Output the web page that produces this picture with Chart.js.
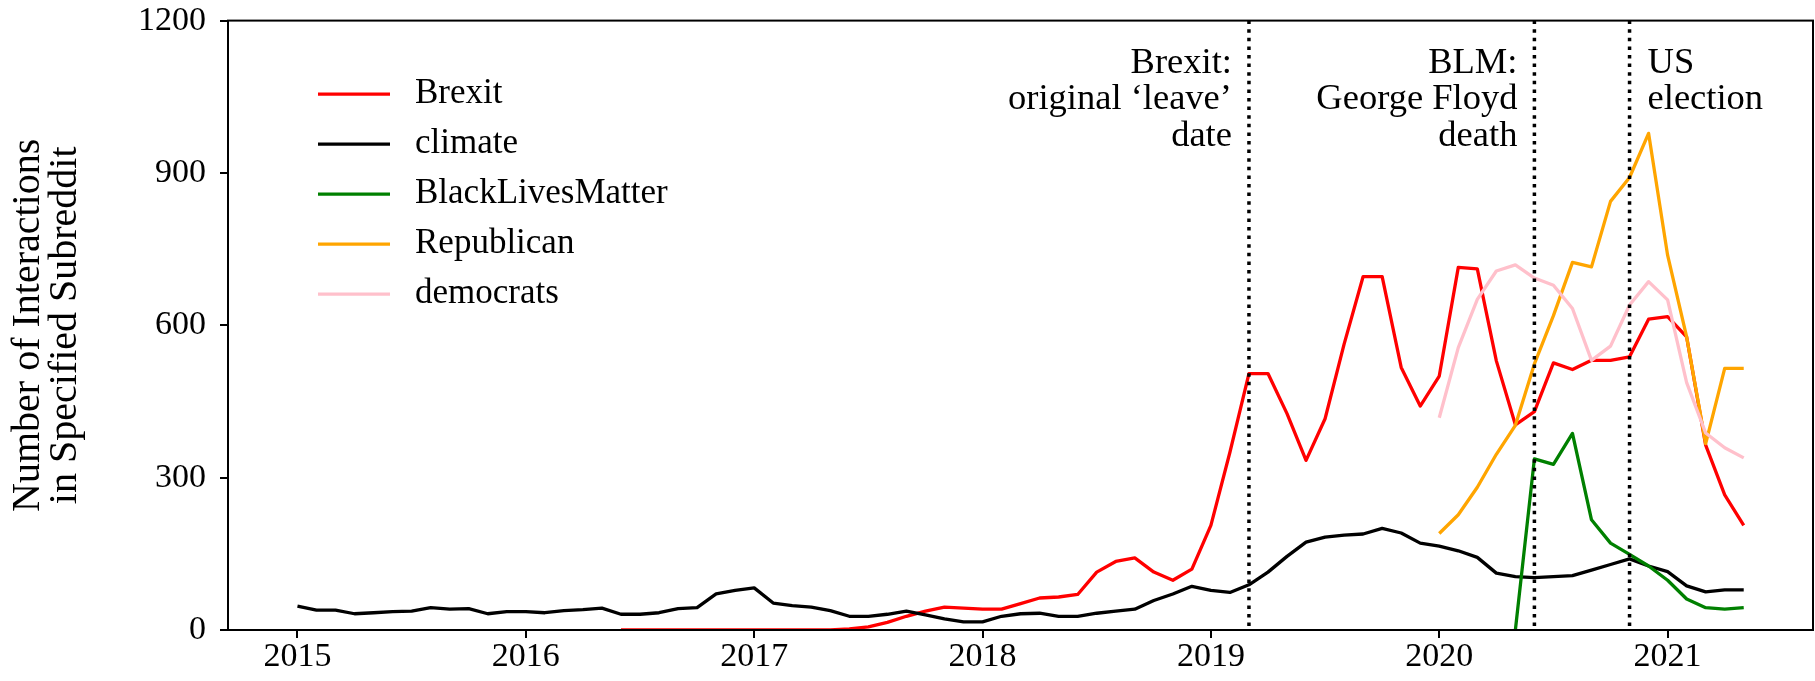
<!DOCTYPE html>
<html>
<head>
<meta charset="utf-8">
<script src="https://cdn.jsdelivr.net/npm/chart.js@4.4.0/dist/chart.umd.min.js"></script>
<style>
  html, body { margin: 0; padding: 0; background: #fff; }
</style>
</head>
<body>
<canvas id="interactions" width="1815" height="681"></canvas>
<script>
var FONT = '"Liberation Serif", "DejaVu Serif", serif';

// monthly counts, Jan 2015 .. May 2021
var firstYear = 2015;
var monthCount = 77;
var yearLabels = ['2015', '2016', '2017', '2018', '2019', '2020', '2021'];
var yTicks = [0, 300, 600, 900, 1200];

var climate = [47, 39, 39, 32, 34, 36, 37, 44, 41, 42, 32, 36,
  36, 34, 38, 40, 43, 31, 31, 34, 42, 44, 71, 78,
  83, 53, 48, 45, 38, 27, 27, 31, 37, 30, 22, 16,
  16, 27, 32, 33, 27, 27, 33, 37, 41, 58, 71, 86,
  78, 74, 89, 114, 145, 173, 183, 187, 189, 200, 191, 171,
  165, 156, 143, 112, 105, 103, 105, 107, 118, 129, 140, 126,
  115, 87, 75, 79, 79];

var brexitStart = '2016-06';
var brexit = [0, 0, 0, 0, 0, 0, 0, 0, 0, 0, 0, 0,
  2, 6, 15, 27, 37, 45, 43, 41, 41, 52, 63, 65,
  70, 114, 135, 142, 114, 98, 120, 206, 350, 505, 505, 426,
  334, 416, 563, 696, 696, 517, 441, 500, 714, 711, 530, 404,
  430, 526, 513, 531, 531, 538, 612, 617, 577, 364, 266, 206];

var blmStart = '2020-05';
var blm = [0, 337, 326, 387, 217, 171, 149, 126, 98, 61, 44, 41, 44];

var republicanStart = '2020-01';
var republican = [190, 227, 281, 346, 403, 524, 619, 724, 715, 844, 891, 978, 738, 577, 367, 515, 515];

var democratsStart = '2020-01';
var democrats = [418, 556, 651, 707, 719, 693, 679, 633, 531, 559, 640, 686, 650, 487, 388, 359, 339];

var events = [
  { month: '2019-03', lines: ['Brexit:', 'original \u2018leave\u2019', 'date'], side: 'left' },
  { month: '2020-06', lines: ['BLM:', 'George Floyd', 'death'], side: 'left' },
  { month: '2020-11', lines: ['US', 'election'], side: 'right' }
];

var months = [];
for (var i = 0; i < monthCount; i++) {
  var y = firstYear + Math.floor(i / 12);
  var m = (i % 12) + 1;
  months.push(y + '-' + (m < 10 ? '0' + m : m));
}

function points(start, values) {
  var offset = months.indexOf(start);
  return values.map(function (v, k) { return { x: offset + k, y: v }; });
}

function series(label, color, start, values, order) {
  return {
    label: label,
    data: points(start, values),
    borderColor: color,
    backgroundColor: color,
    borderWidth: 3.3,
    pointRadius: 0,
    tension: 0,
    borderJoinStyle: 'round',
    order: order
  };
}

// box around the plot area
var frame = {
  id: 'frame',
  afterDatasetsDraw: function (chart) {
    var a = chart.chartArea, ctx = chart.ctx;
    ctx.save();
    ctx.strokeStyle = '#000';
    ctx.lineWidth = 2;
    ctx.strokeRect(a.left, a.top, a.right - a.left, a.bottom - a.top);
    ctx.restore();
  }
};

// dotted event markers with their captions
var eventLines = {
  id: 'eventLines',
  afterDatasetsDraw: function (chart) {
    var a = chart.chartArea, ctx = chart.ctx, xs = chart.scales.x;
    ctx.save();
    events.forEach(function (e) {
      var x = xs.getPixelForValue(months.indexOf(e.month));
      ctx.beginPath();
      ctx.setLineDash([3.5, 5.1]);
      ctx.lineWidth = 3.5;
      ctx.strokeStyle = '#000';
      ctx.moveTo(x, a.top);
      ctx.lineTo(x, a.bottom);
      ctx.stroke();

      ctx.setLineDash([]);
      ctx.fillStyle = '#000';
      ctx.font = '36.5px ' + FONT;
      ctx.textBaseline = 'alphabetic';
      ctx.textAlign = e.side === 'left' ? 'right' : 'left';
      var tx = e.side === 'left' ? x - 17 : x + 18;
      e.lines.forEach(function (line, k) {
        ctx.fillText(line, tx, a.top + 52 + k * 36.5);
      });
    });
    ctx.restore();
  }
};

// legend without frame, upper left inside the axes
var lineLegend = {
  id: 'lineLegend',
  afterDraw: function (chart) {
    var a = chart.chartArea, ctx = chart.ctx;
    ctx.save();
    ctx.font = '35px ' + FONT;
    ctx.textBaseline = 'middle';
    ctx.textAlign = 'left';
    chart.data.datasets.forEach(function (ds, k) {
      var y = a.top + 73.5 + k * 50;
      ctx.beginPath();
      ctx.strokeStyle = ds.borderColor;
      ctx.lineWidth = 3.3;
      ctx.moveTo(a.left + 90, y);
      ctx.lineTo(a.left + 162, y);
      ctx.stroke();
      ctx.fillStyle = '#000';
      ctx.fillText(ds.label, a.left + 187, y);
    });
    ctx.restore();
  }
};

new Chart(document.getElementById('interactions'), {
  type: 'line',
  data: {
    datasets: [
      series('Brexit', '#ff0000', brexitStart, brexit, 5),
      series('climate', '#000000', months[0], climate, 4),
      series('BlackLivesMatter', '#008000', blmStart, blm, 3),
      series('Republican', '#ffa500', republicanStart, republican, 2),
      series('democrats', '#ffc0cb', democratsStart, democrats, 1)
    ]
  },
  options: {
    responsive: false,
    animation: false,
    devicePixelRatio: 1,
    layout: { autoPadding: false, padding: { top: 20.6, right: 2, left: 0, bottom: 0 } },
    plugins: {
      legend: { display: false },
      tooltip: { enabled: false }
    },
    scales: {
      x: {
        type: 'linear',
        min: -3.65,
        max: 79.64,
        afterFit: function (scale) {
          scale.height = 51;
          scale.paddingLeft = 0;
          scale.paddingRight = 0;
        },
        afterBuildTicks: function (scale) {
          scale.ticks = yearLabels.map(function (lab, k) { return { value: k * 12 }; });
        },
        ticks: {
          color: '#000',
          padding: 0,
          maxRotation: 0,
          font: { family: FONT, size: 34, lineHeight: 1.15 },
          callback: function (value) { return yearLabels[value / 12]; }
        },
        grid: { drawOnChartArea: false, drawTicks: true, tickLength: 8, color: '#000', lineWidth: 2 },
        border: { display: false }
      },
      y: {
        min: 0,
        max: 1200,
        afterFit: function (scale) {
          scale.width = 228;
          scale.paddingTop = 0;
          scale.paddingBottom = 0;
        },
        afterBuildTicks: function (scale) {
          scale.ticks = yTicks.map(function (v) { return { value: v }; });
        },
        ticks: {
          color: '#000',
          padding: 14,
          font: { family: FONT, size: 34 },
          callback: function (value) { return String(value); }
        },
        grid: { drawOnChartArea: false, drawTicks: true, tickLength: 8, color: '#000', lineWidth: 2 },
        border: { display: false },
        title: {
          display: true,
          text: ['Number of Interactions', 'in Specified Subreddit'],
          color: '#000',
          font: { family: FONT, size: 40, lineHeight: '36.5px' },
          padding: { top: 10.5, bottom: 0 }
        }
      }
    }
  },
  plugins: [frame, eventLines, lineLegend]
});
</script>
</body>
</html>
